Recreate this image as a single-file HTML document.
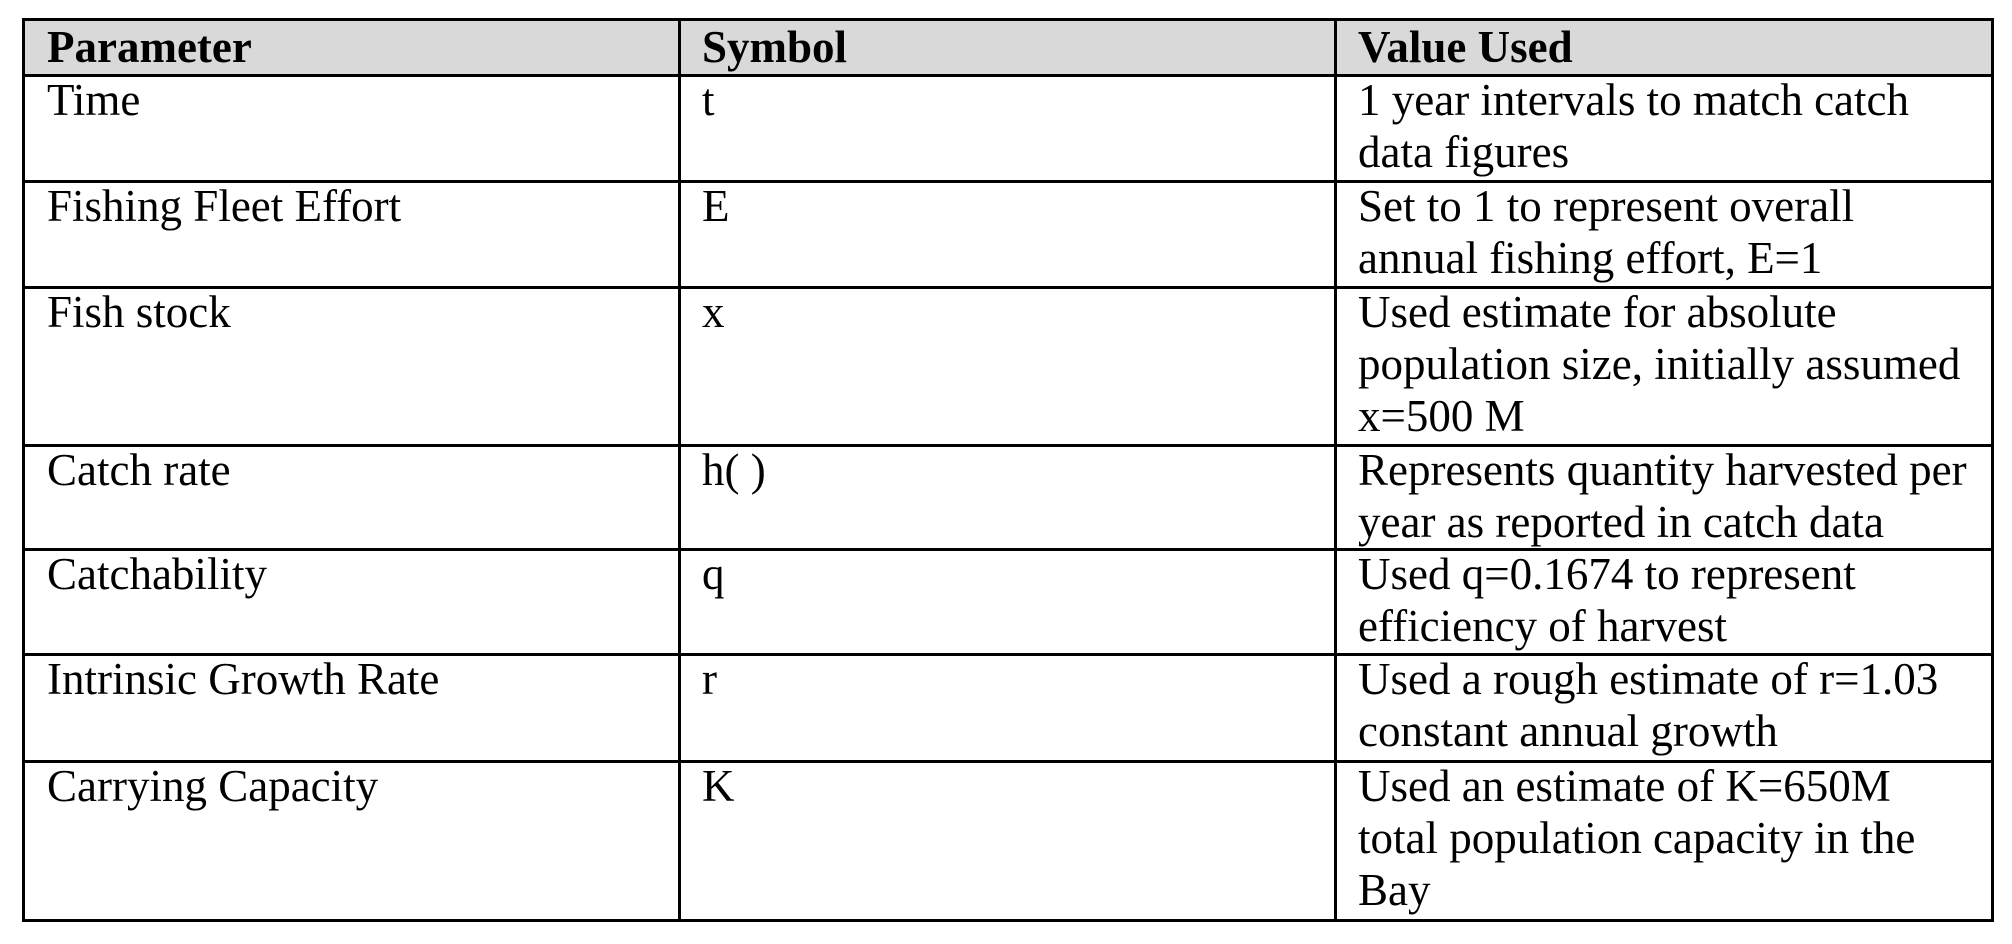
<!DOCTYPE html>
<html><head><meta charset="utf-8"><style>
html,body{margin:0;padding:0;background:#fff;}
body{width:2012px;height:944px;position:relative;overflow:hidden;font-family:"Liberation Serif","Times New Roman",serif;color:#000;}
.h{position:absolute;background:#000;height:3px;}
.v{position:absolute;background:#000;width:3px;}
.t{position:absolute;font-size:45px;line-height:52px;white-space:nowrap;}
.b{font-weight:bold;}
</style></head><body>
<div style="position:absolute;left:23px;top:19px;width:1970px;height:56px;background:#d9d9d9"></div>
<div class="h" style="left:22px;top:18px;width:1972px"></div>
<div class="h" style="left:22px;top:74px;width:1972px"></div>
<div class="h" style="left:22px;top:180px;width:1972px"></div>
<div class="h" style="left:22px;top:286px;width:1972px"></div>
<div class="h" style="left:22px;top:444px;width:1972px"></div>
<div class="h" style="left:22px;top:548px;width:1972px"></div>
<div class="h" style="left:22px;top:653px;width:1972px"></div>
<div class="h" style="left:22px;top:760px;width:1972px"></div>
<div class="h" style="left:22px;top:919px;width:1972px"></div>
<div class="v" style="left:22px;top:18px;height:904px"></div>
<div class="v" style="left:678px;top:18px;height:904px"></div>
<div class="v" style="left:1334px;top:18px;height:904px"></div>
<div class="v" style="left:1991px;top:18px;height:904px"></div>

<div class="t b" style="left:47px;top:21px">Parameter</div>
<div class="t b" style="left:702px;top:21px">Symbol</div>
<div class="t b" style="left:1358px;top:21px">Value Used</div>

<div class="t" style="left:47px;top:74px">Time</div>
<div class="t" style="left:702px;top:74px">t</div>
<div class="t" style="left:1358px;top:74px">1 year intervals to match catch<br>data figures</div>

<div class="t" style="left:47px;top:180px">Fishing Fleet Effort</div>
<div class="t" style="left:702px;top:180px">E</div>
<div class="t" style="left:1358px;top:180px">Set to 1 to represent overall<br>annual fishing effort, E=1</div>

<div class="t" style="left:47px;top:286px">Fish stock</div>
<div class="t" style="left:702px;top:286px">x</div>
<div class="t" style="left:1358px;top:286px">Used estimate for absolute<br>population size, initially assumed<br>x=500 M</div>

<div class="t" style="left:47px;top:444px">Catch rate</div>
<div class="t" style="left:702px;top:444px">h( )</div>
<div class="t" style="left:1358px;top:444px">Represents quantity harvested per<br>year as reported in catch data</div>

<div class="t" style="left:47px;top:548px">Catchability</div>
<div class="t" style="left:702px;top:548px">q</div>
<div class="t" style="left:1358px;top:548px">Used q=0.1674 to represent<br>efficiency of harvest</div>

<div class="t" style="left:47px;top:653px">Intrinsic Growth Rate</div>
<div class="t" style="left:702px;top:653px">r</div>
<div class="t" style="left:1358px;top:653px">Used a rough estimate of r=1.03<br>constant annual growth</div>

<div class="t" style="left:47px;top:760px">Carrying Capacity</div>
<div class="t" style="left:702px;top:760px">K</div>
<div class="t" style="left:1358px;top:760px">Used an estimate of K=650M<br>total population capacity in the<br>Bay</div>
</body></html>
